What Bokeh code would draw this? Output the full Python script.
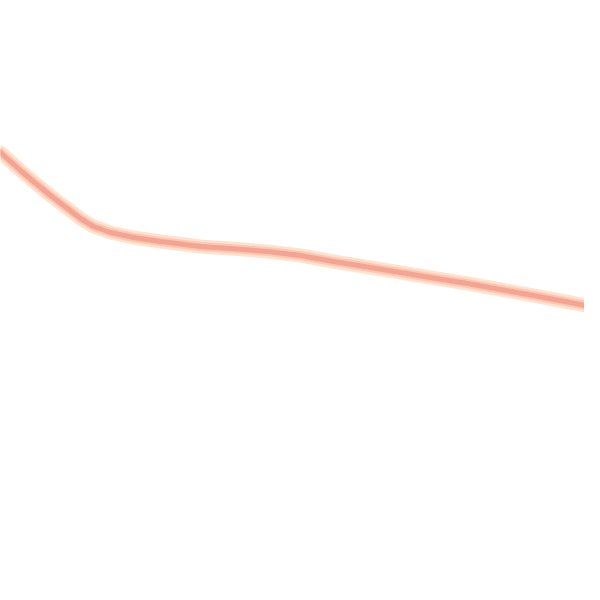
from bokeh.plotting import figure
from bokeh.models import Range1d
from bokeh.embed import file_html
from bokeh.resources import INLINE

# values (x position, y value on an inverted scale)
xs = [0, 10, 20, 33, 50, 67, 80, 93, 110, 133, 160, 200, 230, 267, 300, 333, 370, 400, 430, 467, 500, 533, 570, 600]
ys = [152, 161, 170, 181, 195, 208, 218, 226, 232, 237, 241, 246, 248, 251, 255, 261, 267, 272, 277, 283, 289, 295, 302, 308]

p = figure(width=584, height=584, output_backend="svg", toolbar_location=None,
           x_range=Range1d(0, 584), y_range=Range1d(584, 0),
           min_border=0)
p.axis.visible = False
p.grid.visible = False
p.outline_line_color = None
p.background_fill_color = "white"
p.border_fill_color = "white"

p.line(xs, ys, line_color="#fde2cf", line_width=14, line_join="round", line_cap="round")
p.line(xs, ys, line_color="#fbc9b1", line_width=9, line_join="round", line_cap="round")
p.line(xs, ys, line_color="#f5a393", line_width=5, line_join="round", line_cap="round")

open("out.html", "w").write(file_html(p, INLINE))
